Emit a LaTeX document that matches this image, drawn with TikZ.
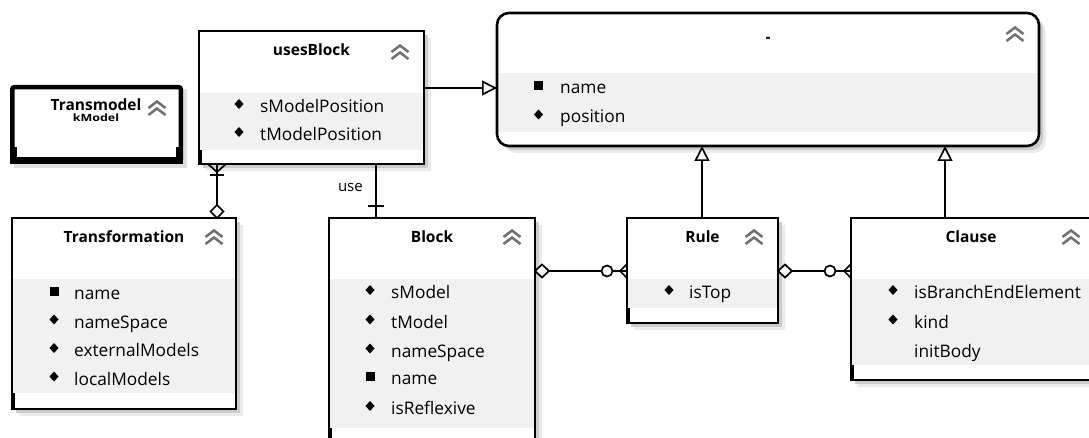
\documentclass[tikz,border=0pt]{standalone}
\usepackage{fontspec}
\setmainfont{Open Sans}
\usetikzlibrary{arrows.meta,calc}
\definecolor{bandc}{HTML}{F1F1F1}
\definecolor{chevc}{HTML}{707070}
\tikzset{
  boxline/.style={line width=2.6pt, draw=black},
  boxfill/.style={anchor=north west, fill=white, inner sep=0pt, outer sep=0pt},
  titlef/.style={anchor=base, inner sep=0pt, font=\fontsize{15.5}{18}\selectfont\bfseries},
  attrf/.style={anchor=base west, inner sep=0pt, font=\fontsize{17.3}{20}\selectfont},
  lblf/.style={anchor=base east, inner sep=0pt, font=\fontsize{15}{18}\selectfont},
  chevline/.style={draw=chevc, line width=2.5pt, line cap=butt, line join=miter},
  conn/.style={line width=2.5pt, draw=black},
  endmark/.style={line width=1.7pt, draw=black, fill=white},
  inh/.style={conn, -{Triangle[length=15pt, width=15pt, fill=white, line width=1.7pt]}}
}
% class box: name, x1, y1, x2, y2, attribute band top, band bottom
\newcommand{\classbox}[7]{%
  \fill[black!8] (#2+7,#3+7) rectangle (#4+7,#5+7);
  \fill[black!20] (#2+4,#3+4) rectangle (#4+4,#5+4);
  \node[boxfill, minimum width={(#4-#2)*1pt}, minimum height={(#5-#3)*1pt}] (#1) at (#2,#3) {};
  \fill[bandc] (#2,#6) rectangle (#4,#7);
  \fill (#2,#7) rectangle (#2+3,#5);
  \draw[boxline] (#1.north west) rectangle (#1.south east);
}
% collapse chevron centred at x, y
\newcommand{\chev}[2]{%
  \draw[chevline] (#1-8.5,#2) -- (#1,#2-6.5) -- (#1+8.5,#2);
  \draw[chevline] (#1-8.5,#2+7) -- (#1,#2+0.5) -- (#1+8.5,#2+7);
}
% attribute bullets
\newcommand{\bdia}[2]{\fill (#1,#2-5) -- (#1+4.5,#2) -- (#1,#2+5) -- (#1-4.5,#2) -- cycle;}
\newcommand{\bsq}[2]{\fill (#1-4.5,#2-4.5) rectangle (#1+4.5,#2+4.5);}

\begin{document}
\begin{tikzpicture}[x=1pt, y=-1pt]
\clip (0,0) rectangle (1089,438);
\fill[white] (0,0) rectangle (1089,438);

% ---- Transmodel (diagram link) ----
\fill[black!12] (14,89) rectangle (187,168);
\node[boxfill, minimum width=173pt, minimum height=79pt] (tm) at (10,85) {};
\draw[line width=4.5pt, rounded corners=2pt] ([shift={(2.25pt,-2.25pt)}]tm.north west) rectangle ([shift={(-2.25pt,2.25pt)}]tm.south east);
\fill ([yshift=7pt]tm.south west) rectangle (tm.south east);
\fill ([shift={(2pt,7pt)}]tm.south west) rectangle ([shift={(7pt,17pt)}]tm.south west);
\fill ([shift={(-2pt,7pt)}]tm.south east) rectangle ([shift={(-7pt,17pt)}]tm.south east);
\node[titlef] (tmtitle) at (96,111) {Transmodel};
\node[anchor=base, inner sep=0pt, xscale=1.25, font=\fontsize{10}{11}\selectfont\bfseries] (tmsub) at (96,122) {kModel};
\chev{157}{108}

% ---- usesBlock ----
\classbox{uses}{199}{31}{424}{164}{93}{150}
\node[titlef] (usestitle) at (311.5,55.5) {usesBlock};
\chev{400}{52}
\bdia{239}{104} \node[attrf] (u1) at (260,112.5) {sModelPosition};
\bdia{239}{132} \node[attrf] (u2) at (260,140.5) {tModelPosition};

% ---- abstract element ----
\fill[black!8, rounded corners=12pt] (504,20) rectangle (1046,153);
\fill[black!20, rounded corners=12pt] (501,17) rectangle (1043,150);
\node[boxfill, rounded corners=12pt, minimum width=542pt, minimum height=133pt] (abs) at (497,13) {};
\fill[bandc] (498,73) rectangle (1038,132);
\draw[boxline, rounded corners=12pt] (abs.north west) rectangle (abs.south east);
\node[titlef] (abstitle) at (768,43) {-};
\chev{1015}{34}
\bsq{538.5}{85.5} \node[attrf] (a1t) at (560,94) {name};
\bdia{538.5}{114.5} \node[attrf] (a2t) at (560,123) {position};

% ---- Transformation ----
\classbox{tf}{12}{218}{236}{409}{279}{393}
\node[titlef] (tftitle) at (124,242.5) {Transformation};
\chev{214}{237}
\bsq{54}{291} \node[attrf] (tf1) at (74,299.5) {name};
\bdia{54}{319.5} \node[attrf] (tf2) at (74,328) {nameSpace};
\bdia{54}{348} \node[attrf] (tf3) at (74,356.5) {externalModels};
\bdia{54}{376.5} \node[attrf] (tf4) at (74,385) {localModels};

% ---- Block ----
\classbox{blk}{329}{218}{535}{445}{279}{428}
\node[titlef] (blktitle) at (432,242.5) {Block};
\chev{512}{237}
\bdia{370}{290} \node[attrf] (b1t) at (391,298.5) {sModel};
\bdia{370}{319.5} \node[attrf] (b2t) at (391,328) {tModel};
\bdia{370}{348.5} \node[attrf] (b3t) at (391,357) {nameSpace};
\bsq{370}{376} \node[attrf] (b4t) at (391,384.5) {name};
\bdia{370}{406} \node[attrf] (b5t) at (391,414.5) {isReflexive};

% ---- Rule ----
\classbox{rule}{627}{218}{778}{323}{279}{308}
\node[titlef] (ruletitle) at (702.5,242.5) {Rule};
\chev{754}{237}
\bdia{669}{290} \node[attrf] (r1t) at (689,298.5) {isTop};

% ---- Clause ----
\classbox{cl}{851}{218}{1093}{380}{279}{365}
\node[titlef] (cltitle) at (971,242.5) {Clause};
\chev{1071}{237}
\bdia{893}{290} \node[attrf] (c1t) at (914,298.5) {isBranchEndElement};
\bdia{893}{319.5} \node[attrf] (c2t) at (914,328) {kind};
\node[attrf] (c3t) at (914,357) {initBody};

% ---- connectors ----
% usesBlock specialises the abstract element
\coordinate (ua) at ([yshift=-57pt]uses.north east);
\coordinate (ub) at (ua -| abs.west);
\draw[inh] (ua) -- (ub);

% Rule and Clause specialise the abstract element
\coordinate (ra) at ([xshift=75pt]rule.north west);
\coordinate (rb) at (ra |- abs.south);
\draw[inh] (ra) -- (rb);
\coordinate (ca) at ([xshift=94pt]cl.north west);
\coordinate (cb) at (ca |- abs.south);
\draw[inh] (ca) -- (cb);

% Transformation aggregates usesBlock
\coordinate (ta) at ([xshift=18pt]uses.south west);
\coordinate (tb) at (ta |- tf.north);
\draw[conn] (ta) -- (tb);
\draw[line width=1.7pt] ($(ta)+(-9,0)$) -- ($(ta)+(0,8)$) -- ($(ta)+(9,0)$);
\draw[line width=1.7pt] ($(ta)+(-7,11)$) -- ($(ta)+(7,11)$);
\draw[endmark] (tb) -- ++(-6.5,-6.5) -- ++(6.5,-6.5) -- ++(6.5,6.5) -- cycle;

% usesBlock uses Block
\coordinate (ba) at ([xshift=177pt]uses.south west);
\coordinate (bb) at (ba |- blk.north);
\draw[conn] (ba) -- (bb);
\draw[line width=1.7pt] ($(bb)+(-8,-12)$) -- ($(bb)+(8,-12)$);
\node[lblf] (uselbl) at ($(ba)+(-13,28)$) {use};

% Block contains Rules
\coordinate (da) at ([yshift=-53pt]blk.north east);
\coordinate (db) at (da -| rule.west);
\draw[conn] (da) -- (db);
\draw[endmark] (da) -- ++(7,-6.5) -- ++(7,6.5) -- ++(-7,6.5) -- cycle;
\draw[endmark] ($(db)+(-20,0)$) circle (5.5);
\draw[line width=1.7pt] ($(db)+(0,-7)$) -- ($(db)+(-7,0)$) -- ($(db)+(0,7)$);

% Rule contains Clauses
\coordinate (ea) at ([yshift=-53pt]rule.north east);
\coordinate (eb) at (ea -| cl.west);
\draw[conn] (ea) -- (eb);
\draw[endmark] (ea) -- ++(7,-6.5) -- ++(7,6.5) -- ++(-7,6.5) -- cycle;
\draw[endmark] ($(eb)+(-21,0)$) circle (5.5);
\draw[line width=1.7pt] ($(eb)+(0,-7)$) -- ($(eb)+(-7,0)$) -- ($(eb)+(0,7)$);
\end{tikzpicture}
\end{document}
